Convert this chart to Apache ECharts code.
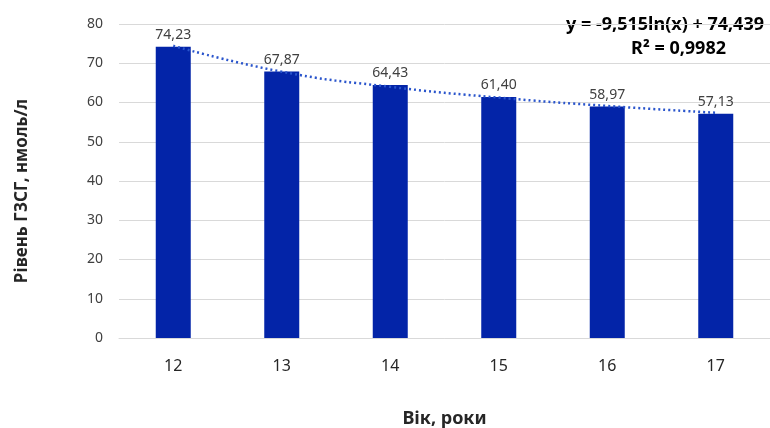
<!DOCTYPE html>
<html>
<head>
<meta charset="utf-8">
<script src="https://cdn.jsdelivr.net/npm/echarts@6/dist/echarts.min.js"></script>
<style>html,body{margin:0;padding:0;background:#fff}#c{width:770px;height:428px}</style>
</head>
<body>
<div id="c"></div>
<script>
const categories = ['12', '13', '14', '15', '16', '17'];
const levels = [74.23, 67.87, 64.43, 61.40, 58.97, 57.13];
const trendValues = [74.44, 67.85, 63.99, 61.25, 59.12, 57.39];
const yTicks = [0, 10, 20, 30, 40, 50, 60, 70, 80];
const equationLine = 'y = -9,515ln(x) + 74,439';
const r2Line = 'R² = 0,9982';
const yTitle = 'Рівень ГЗСГ, нмоль/л';
const xTitle = 'Вік, роки';

const FONT = '"Noto Sans", "Open Sans", sans-serif';
const chart = echarts.init(document.getElementById('c'));
chart.setOption({
  animation: false,
  textStyle: { fontFamily: FONT },
  grid: { left: 119, right: 0, top: 24, bottom: 90, containLabel: false, outerBoundsMode: 'none' },
  xAxis: {
    type: 'category',
    data: categories,
    axisLine: { lineStyle: { color: '#d9d9d9', width: 1 } },
    axisTick: { show: false },
    axisLabel: { fontSize: 16, color: '#262626', margin: 20, fontFamily: FONT },
    name: xTitle,
    nameLocation: 'middle',
    nameGap: 72,
    nameTextStyle: { fontSize: 18, fontWeight: 'bold', color: '#262626', fontFamily: FONT }
  },
  yAxis: {
    type: 'value',
    min: yTicks[0],
    max: yTicks[yTicks.length - 1],
    interval: 10,
    axisLine: { show: false },
    axisTick: { show: false },
    splitLine: { lineStyle: { color: '#d9d9d9', width: 1 } },
    axisLabel: { fontSize: 14, color: '#404040', margin: 16, fontFamily: FONT },
    name: yTitle,
    nameLocation: 'middle',
    nameGap: 88,
    nameRotate: 90,
    nameTextStyle: { fontSize: 17, fontWeight: 'bold', color: '#262626', fontFamily: FONT, padding: [0, 20, 0, 0] }
  },
  series: [
    {
      type: 'bar',
      data: levels,
      barWidth: 35,
      itemStyle: { color: '#0324a8' },
      label: {
        show: true,
        position: 'top',
        distance: 5,
        fontSize: 14,
        color: '#404040',
        fontFamily: FONT,
        formatter: p => p.value.toFixed(2).replace('.', ',')
      },
      z: 2
    },
    {
      type: 'line',
      data: trendValues,
      smooth: true,
      symbol: 'none',
      lineStyle: { color: '#2a55cc', width: 2.5, type: [2, 3] },
      z: 3
    }
  ],
  graphic: [
    {
      type: 'text', right: 6, top: 16,
      style: { text: equationLine, fontSize: 18, fontWeight: 'bold', fill: '#000', fontFamily: FONT }
    },
    {
      type: 'text', right: 44, top: 40,
      style: { text: r2Line, fontSize: 18, fontWeight: 'bold', fill: '#000', fontFamily: FONT }
    }
  ]
});
</script>
</body>
</html>
